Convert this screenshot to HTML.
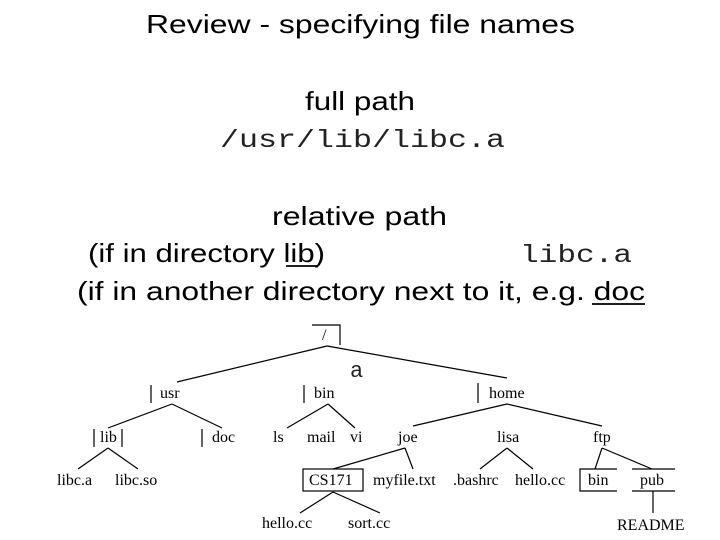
<!DOCTYPE html>
<html><head><meta charset="utf-8"><style>
html,body{margin:0;padding:0;background:#fff}
svg{display:block}
.s{font-family:"Liberation Sans",Arial,sans-serif;font-size:26px;fill:#000}
.m{font-family:"Liberation Mono",monospace;font-size:25px;fill:#222}
.t{font-family:"Liberation Serif",serif;font-size:16px;fill:#000}
line,rect,polyline{stroke:#000;stroke-width:1.2;fill:none}
</style></head><body>
<svg width="720" height="540" viewBox="0 0 720 540" xmlns="http://www.w3.org/2000/svg">
<text class="s" x="146" y="33" textLength="429" lengthAdjust="spacingAndGlyphs">Review - specifying file names</text>
<text class="s" x="305" y="110" textLength="110" lengthAdjust="spacingAndGlyphs">full path</text>
<text class="m" x="220" y="147" textLength="285" lengthAdjust="spacingAndGlyphs">/usr/lib/libc.a</text>
<text class="s" x="272" y="225" textLength="175" lengthAdjust="spacingAndGlyphs">relative path</text>
<text class="s" x="88" y="262" textLength="237" lengthAdjust="spacingAndGlyphs">(if in directory lib)</text>
<line x1="286" y1="266" x2="318" y2="266" style="stroke-width:1.8"/>
<text class="m" x="520" y="262" textLength="112" lengthAdjust="spacingAndGlyphs">libc.a</text>
<text class="s" x="77" y="300" textLength="568" lengthAdjust="spacingAndGlyphs">(if in another directory next to it, e.g. doc</text>
<line x1="592" y1="304" x2="645" y2="304" style="stroke-width:1.8"/>

<!-- tree -->
<polyline points="312,325 340,325 340,345"/>
<text class="t" x="322" y="340">/</text>
<text class="m" x="350" y="377" style="font-size:22px">a</text>
<line x1="327" y1="346" x2="177" y2="382"/>
<line x1="327" y1="346" x2="507" y2="378"/>

<line x1="151" y1="385" x2="151" y2="403"/><text class="t" x="160" y="398">usr</text>
<line x1="304" y1="385" x2="304" y2="403"/><text class="t" x="314" y="398">bin</text>
<line x1="478" y1="383" x2="478" y2="403"/><text class="t" x="489" y="398">home</text>

<line x1="172" y1="404" x2="108" y2="428"/>
<line x1="172" y1="404" x2="222" y2="428"/>
<line x1="328" y1="404" x2="287" y2="428"/>
<line x1="328" y1="404" x2="355" y2="428"/>
<line x1="507" y1="404" x2="413" y2="426"/>
<line x1="507" y1="404" x2="602" y2="426"/>

<line x1="94" y1="429" x2="94" y2="447"/><line x1="122" y1="429" x2="122" y2="447"/>
<text class="t" x="100" y="442">lib</text>
<line x1="202" y1="429" x2="202" y2="447"/><text class="t" x="212" y="442">doc</text>
<text class="t" x="273" y="442">ls</text>
<text class="t" x="307" y="442">mail</text>
<text class="t" x="350" y="442">vi</text>
<text class="t" x="398" y="442">joe</text>
<text class="t" x="497" y="442">lisa</text>
<text class="t" x="593" y="442">ftp</text>

<line x1="108" y1="448" x2="78" y2="469"/>
<line x1="108" y1="448" x2="138" y2="469"/>
<line x1="405" y1="448" x2="333" y2="469"/>
<line x1="405" y1="448" x2="413" y2="469"/>
<line x1="507" y1="448" x2="480" y2="469"/>
<line x1="507" y1="448" x2="533" y2="469"/>
<line x1="602" y1="448" x2="595" y2="469"/>
<line x1="602" y1="448" x2="652" y2="469"/>

<text class="t" x="57" y="485">libc.a</text>
<text class="t" x="115" y="485">libc.so</text>
<rect x="303" y="469" width="60" height="22"/>
<text class="t" x="309" y="485">CS171</text>
<text class="t" x="373" y="485">myfile.txt</text>
<text class="t" x="453" y="485">.bashrc</text>
<text class="t" x="515" y="485">hello.cc</text>
<polyline points="617,469 580,469 580,491 617,491"/>
<text class="t" x="588" y="485">bin</text>
<line x1="632" y1="469" x2="675" y2="469"/>
<line x1="632" y1="491" x2="675" y2="491"/>
<text class="t" x="640" y="485">pub</text>
<line x1="653" y1="491" x2="653" y2="513"/>
<text class="t" x="617" y="530">README</text>

<line x1="333" y1="492" x2="300" y2="513"/>
<line x1="333" y1="492" x2="380" y2="513"/>
<text class="t" x="262" y="528">hello.cc</text>
<text class="t" x="348" y="528">sort.cc</text>
</svg>
</body></html>
